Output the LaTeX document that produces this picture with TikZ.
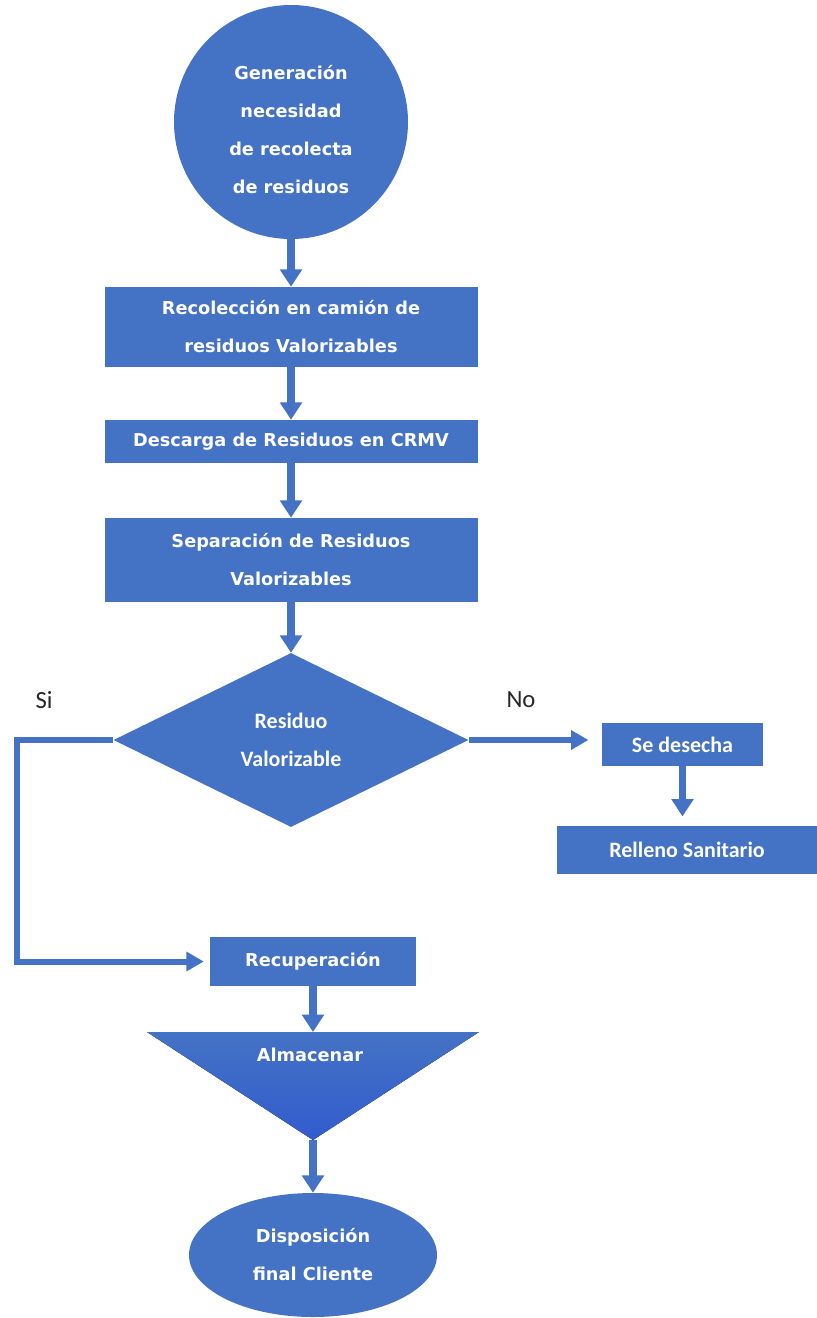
\documentclass[tikz,border=0pt]{standalone}
\usepackage{fontspec}
\setmainfont{DejaVu Sans}
\newfontfamily\calib{Carlito}
\usepackage{tikz}
\usetikzlibrary{shapes.geometric, arrows.meta}
\definecolor{flowblue}{RGB}{68,114,196}
\definecolor{flowdeep}{RGB}{50,92,206}

\begin{document}
\begin{tikzpicture}[x=0.75pt,y=-0.75pt,
  blk/.style={fill=flowblue, draw=none, inner sep=0pt, text=white, align=center,
    font=\bfseries\fontsize{13.3}{28.5}\selectfont},
  blkn/.style={blk, font=\calib\bfseries\fontsize{16.5}{28.5}\selectfont},
  lbl/.style={font=\calib\fontsize{18.5}{20}\selectfont, text=black!85},
  flow/.style={-{Triangle[width=16pt,length=13pt]}, line width=5.5pt, draw=flowblue},
  loopline/.style={-{Triangle[width=14pt,length=13pt]}, line width=4.5pt, draw=flowblue}]
  \useasboundingbox (0,0) rectangle (817,1318);

  % --- MAIN COLUMN ---
  \node[blk, circle, minimum size=175.5pt] (gen) at (291,122) {\rule{0pt}{22pt}Generación\\necesidad\\de recolecta\\de residuos};
  \node[blk, minimum width=279.75pt, minimum height=60pt]    (recol) at (291,327)   {Recolección en camión de\\residuos Valorizables};
  \node[blk, minimum width=279.75pt, minimum height=32.25pt] (desc)  at (291,441.5) {Descarga de Residuos en CRMV};
  \node[blk, minimum width=279.75pt, minimum height=63pt]    (sep)   at (291,560)   {Separación de Residuos\\Valorizables};

  % --- DECISION ---
  \node[blkn, diamond, minimum width=266.25pt, minimum height=130.5pt] (res) at (291,740) {Residuo\\Valorizable};
  \node[lbl] (si) at (44,700)  {Si};
  \node[lbl] (no) at (521,700) {No};

  % --- REJECTED BRANCH ---
  \node[blkn, minimum width=120.75pt, minimum height=32.25pt] (desecha) at (682.5,744.5) {Se desecha};
  \node[blkn, minimum width=195pt, minimum height=36pt]       (relleno) at (687,850)     {Relleno Sanitario};

  % --- RECOVERED BRANCH ---
  \node[blk, minimum width=154.5pt, minimum height=36.75pt] (recup) at (313,961.5) {Recuperación};
  \coordinate (almL) at (147,1032);
  \coordinate (almR) at (479,1032);
  \coordinate (almtop) at (313,1032);
  \coordinate (almtip) at (313,1140);
  \fill[top color=flowblue, bottom color=flowdeep] (almL) -- (almR) -- (almtip) -- cycle;
  \node[blk, fill=none] (alm) at (310,1055) {Almacenar};
  \node[blk, ellipse, minimum width=186pt, minimum height=93pt] (disp) at (313,1255) {Disposición\\final Cliente};

  % Connectors
  \draw[flow] (gen) -- (recol);
  \draw[flow] (recol) -- (desc);
  \draw[flow] (desc) -- (sep);
  \draw[flow] (sep) -- (res);
  \draw[loopline, shorten >=10pt] (res.east) -- (res.east -| desecha.west);
  \draw[flow, shorten >=7pt] (desecha.south) -- (desecha.south |- relleno.north);
  \coordinate (bend) at (17,740);
  \draw[loopline, shorten >=4.5pt] (res.west) -- (bend) |- (recup.west);
  \draw[flow] (recup) -- (almtop);
  \draw[flow] (almtip) -- (disp);
\end{tikzpicture}
\end{document}
